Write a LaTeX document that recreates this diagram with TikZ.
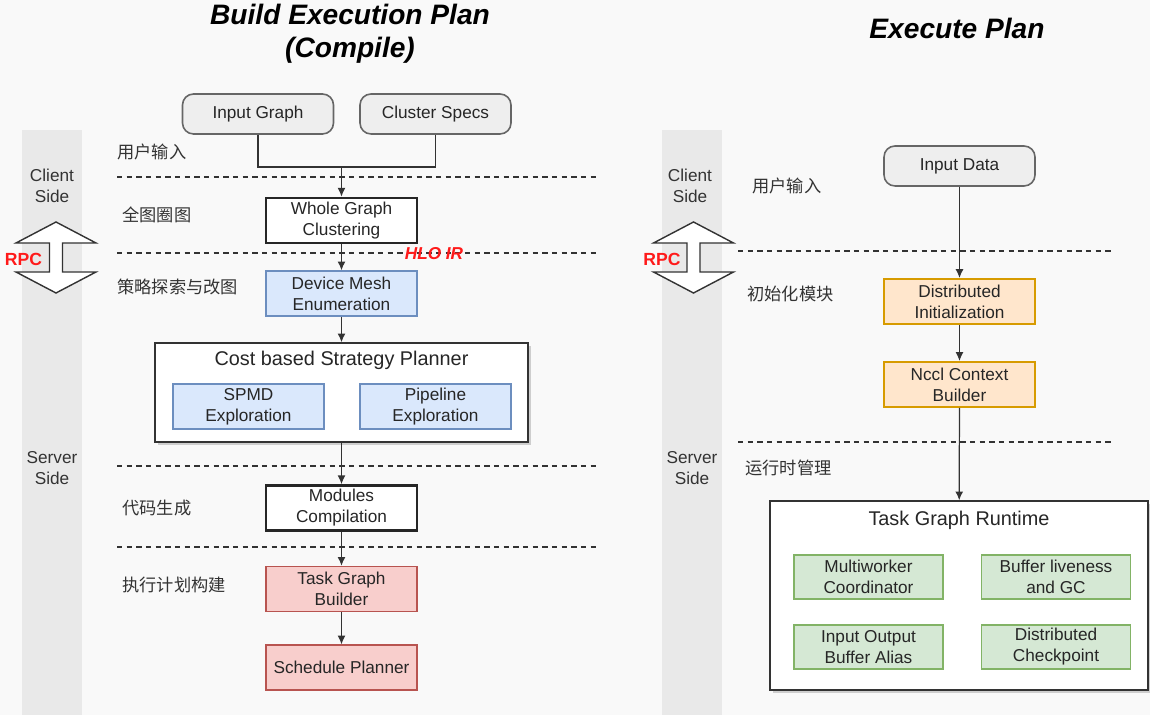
\documentclass[tikz,border=0pt]{standalone}
\usepackage{fontspec}
\setmainfont{Liberation Sans}
\newfontfamily\cjk{Noto Sans CJK SC}
\usetikzlibrary{arrows.meta, positioning, shadows}

\definecolor{bgcol}{HTML}{F9F9F9}
\definecolor{barcol}{HTML}{E9E9E9}
\definecolor{linecol}{HTML}{333333}
\definecolor{inputfill}{HTML}{EEEEEE}
\definecolor{inputdraw}{HTML}{666666}
\definecolor{bluefill}{HTML}{DAE8FC}
\definecolor{bluedraw}{HTML}{6C8EBF}
\definecolor{redfill}{HTML}{F8CECC}
\definecolor{reddraw}{HTML}{B85450}
\definecolor{orangefill}{HTML}{FFE6CC}
\definecolor{orangedraw}{HTML}{D79B00}
\definecolor{greenfill}{HTML}{D5E8D4}
\definecolor{greendraw}{HTML}{82B366}
\definecolor{rpcred}{HTML}{FF1A1A}

\newcommand{\boxfont}{\fontsize{9.8}{11.9}\selectfont}
\newcommand{\titlefont}{\fontsize{16}{18.7}\selectfont\bfseries\itshape}

\begin{document}
\begin{tikzpicture}[
  box/.style={rectangle, draw=linecol, line width=0.7pt, minimum width=3.02cm, minimum height=0.9cm, align=center, inner sep=1pt, font=\boxfont, text=black!85},
  inbox/.style={box, rounded corners=0.22cm, fill=inputfill, draw=inputdraw, line width=0.9pt, minimum height=0.8cm},
  thickbox/.style={box, fill=white, draw=black!85, line width=1.5pt},
  bluebox/.style={box, fill=bluefill, draw=bluedraw, line width=0.9pt},
  redbox/.style={box, fill=redfill, draw=reddraw, line width=0.9pt},
  orangebox/.style={box, fill=orangefill, draw=orangedraw, line width=1.1pt},
  greenbox/.style={box, fill=greenfill, draw=greendraw, line width=0.9pt, minimum width=2.98cm, minimum height=0.88cm},
  group/.style={rectangle, draw=black!80, line width=0.8pt, fill=white, drop shadow={shadow xshift=0.06cm, shadow yshift=-0.06cm, opacity=0.35}},
  grouptitle/.style={font=\fontsize{11.3}{13}\selectfont, text=black!85},
  sidelabel/.style={align=center, font=\boxfont, text=black!80},
  steplabel/.style={anchor=west, inner sep=0pt, font=\cjk\boxfont, text=black!80},
  sep/.style={draw=linecol, line width=0.6pt, dash pattern=on 3pt off 2.5pt},
  flow/.style={-{Latex[length=5pt,width=4.5pt]}, draw=linecol, line width=0.7pt},
  rpcarrow/.pic={
    \filldraw[fill=white, draw=linecol, line width=0.8pt]
      (0,0.71) -- (0.8,0.29) -- (0.13,0.29) -- (0.13,-0.29) -- (0.8,-0.29) -- (0,-0.71)
      -- (-0.8,-0.29) -- (-0.13,-0.29) -- (-0.13,0.29) -- (-0.8,0.29) -- cycle;
  }
]
  % canvas and side bars
  \fill[bgcol] (0,0) rectangle (23,-14.3);
  \useasboundingbox (0,0) rectangle (23,-14.3);
  \fill[barcol] (0.44,-2.6) rectangle (1.64,-14.3);
  \fill[barcol] (13.24,-2.6) rectangle (14.44,-14.3);

  % titles
  \node[align=center, font=\titlefont] (title1) at (7.0,-0.68) {Build Execution Plan\\(Compile)};
  \node[font=\titlefont] (title2) at (19.14,-0.56) {Execute Plan};

  % stage separators
  \foreach \y in {-3.54,-5.06,-9.32,-10.94}
    \draw[sep] (2.34,\y) -- (11.94,\y);
  \foreach \y in {-5.02,-8.84}
    \draw[sep] (14.76,\y) -- (22.24,\y);

  % client / server side
  \node[sidelabel] (client1) at (1.04,-3.71) {Client\\Side};
  \node[sidelabel] (server1) at (1.04,-9.37) {Server\\Side};
  \node[sidelabel] (client2) at (13.8,-3.71) {Client\\Side};
  \node[sidelabel] (server2) at (13.84,-9.37) {Server\\Side};

  % rpc arrows
  \pic at (1.12,-5.15) {rpcarrow};
  \pic at (13.87,-5.15) {rpcarrow};
  \node[font=\fontsize{10}{12}\selectfont\bfseries, text=rpcred] (rpc1) at (0.47,-5.18) {RPC};
  \node[font=\fontsize{10}{12}\selectfont\bfseries, text=rpcred] (rpc2) at (13.24,-5.18) {RPC};

  % stage labels
  \node[steplabel] (lblinput1) at (2.34,-3.04) {用户输入};
  \node[steplabel] (lblcluster) at (2.44,-4.3) {全图圈图};
  \node[steplabel] (lblstrategy) at (2.34,-5.74) {策略探索与改图};
  \node[steplabel] (lblcodegen) at (2.44,-10.16) {代码生成};
  \node[steplabel] (lblplan) at (2.44,-11.7) {执行计划构建};
  \node[steplabel] (lblinput2) at (15.04,-3.72) {用户输入};
  \node[steplabel] (lblinit) at (14.94,-5.88) {初始化模块};
  \node[steplabel] (lblruntime) at (14.9,-9.36) {运行时管理};

  % compile side
  \node[inbox] (graph) at (5.16,-2.28) {Input Graph};
  \node[inbox] (specs) at (8.71,-2.28) {Cluster Specs};
  \coordinate (join) at (6.83,-3.34);
  \node[thickbox] (clustering) at (6.83,-4.41) {Whole Graph\\Clustering};
  \node[bluebox, below=0.52cm of clustering] (mesh) {Device Mesh\\Enumeration};
  \node[font=\boxfont\bfseries\itshape, text=rpcred] (hlo) at (8.68,-5.08) {HLO IR};
  \node[group, minimum width=7.46cm, minimum height=1.98cm] (planner) at (6.83,-7.85) {};
  \node[grouptitle] (plannertitle) at (6.83,-7.2) {Cost based Strategy Planner};
  \node[bluebox] (spmd) at (4.97,-8.13) {SPMD\\Exploration};
  \node[bluebox] (pipeline) at (8.71,-8.13) {Pipeline\\Exploration};
  \node[thickbox] (modules) at (6.83,-10.16) {Modules\\Compilation};
  \node[redbox, below=0.68cm of modules] (builder) {Task Graph\\Builder};
  \node[redbox, below=0.64cm of builder] (schedule) {Schedule Planner};

  % execute side
  \node[inbox] (data) at (19.19,-3.32) {Input Data};
  \node[orangebox] (init) at (19.19,-6.03) {Distributed\\Initialization};
  \node[orangebox, below=0.72cm of init] (nccl) {Nccl Context\\Builder};
  \node[group, minimum width=7.56cm, minimum height=3.78cm] (runtime) at (19.18,-11.91) {};
  \node[grouptitle] (runtimetitle) at (19.18,-10.4) {Task Graph Runtime};
  \node[greenbox] (coord) at (17.37,-11.54) {Multiworker\\Coordinator};
  \node[greenbox] (gc) at (21.12,-11.54) {Buffer liveness\\and GC};
  \node[greenbox] (alias) at (17.37,-12.94) {Input Output\\Buffer Alias};
  \node[greenbox] (ckpt) at (21.12,-12.94) {Distributed\\Checkpoint};

  % connectors
  \draw[draw=linecol, line width=0.7pt] (graph.south) |- (join) -| (specs.south);
  \draw[flow] (join) -- (clustering);
  \draw[flow] (clustering) -- (mesh);
  \draw[flow] (mesh) -- (planner);
  \draw[flow] (planner) -- (modules);
  \draw[flow] (modules) -- (builder);
  \draw[flow] (builder) -- (schedule);
  \draw[flow] (data) -- (init);
  \draw[flow] (init) -- (nccl);
  \draw[flow] (nccl) -- (runtime);
\end{tikzpicture}
\end{document}
